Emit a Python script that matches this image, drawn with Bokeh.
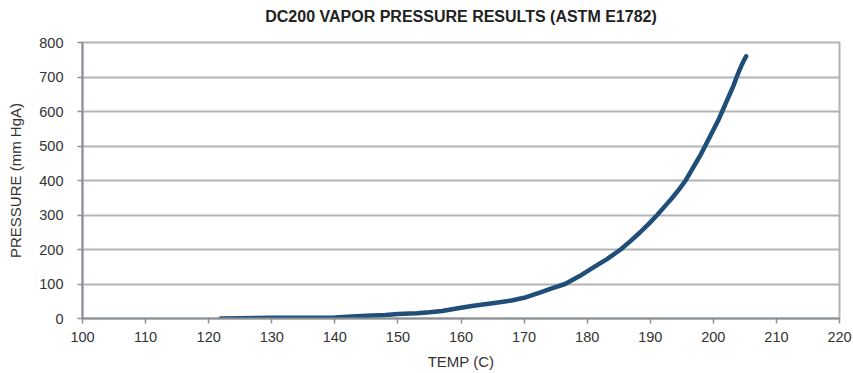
from bokeh.plotting import figure
from bokeh.models import Range1d, FixedTicker, Title
from bokeh.embed import file_html
from bokeh.resources import INLINE

# Data
temp_c = [121.9, 125, 130, 135, 140, 142, 145, 148, 150, 153, 155, 157, 160, 162, 165,
          168, 170, 172.6, 174.5, 176.5, 178.8, 181, 183.2, 185.3, 186.9, 188.4, 189.8,
          191.1, 192.3, 193.5, 194.6, 195.6, 196.4, 197.2, 198.0, 198.7, 199.4, 200.1,
          200.8, 201.4, 202.0, 202.6, 203.2, 203.7, 204.1, 204.5, 204.9, 205.2]
pressure_mmhg = [0, 1, 2, 2, 3, 5, 8, 10, 13, 15, 18, 22, 31, 37, 44,
                 52, 60, 76, 88, 100, 123, 148, 173, 200, 225, 250, 275,
                 300, 325, 350, 375, 400, 425, 450, 475, 500, 525, 550,
                 575, 600, 625, 650, 675, 700, 718, 735, 750, 760]
x_ticks = [100, 110, 120, 130, 140, 150, 160, 170, 180, 190, 200, 210, 220]
y_ticks = [0, 100, 200, 300, 400, 500, 600, 700, 800]

FONT = "Liberation Sans"
p = figure(width=853, height=373, output_backend="svg", toolbar_location=None,
           x_range=Range1d(100, 220), y_range=Range1d(0, 800),
           title="DC200 VAPOR PRESSURE RESULTS (ASTM E1782)",
           min_border_left=82, min_border_right=14, min_border_top=0, min_border_bottom=55)

p.title.align = "center"
p.title.text_font = FONT
p.title.text_font_size = "16px"
p.title.text_font_style = "bold"
p.title.text_color = "#222222"
p.title.offset = 0

# invisible spacer between title and plot frame
p.add_layout(Title(text=" ", text_font_size="10px", standoff=0), "above")

p.line(temp_c, pressure_mmhg, line_color="#1F4E79", line_width=4.5, line_join="round", line_cap="round")

p.xaxis.ticker = FixedTicker(ticks=x_ticks)
p.yaxis.ticker = FixedTicker(ticks=y_ticks)
p.xaxis.axis_label = "TEMP (C)"
p.yaxis.axis_label = "PRESSURE (mm HgA)"
for ax in (p.xaxis, p.yaxis):
    ax.axis_label_text_font = FONT
    ax.axis_label_text_font_size = "15px"
    ax.axis_label_text_font_style = "normal"
    ax.axis_label_text_color = "#333333"
    ax.major_label_text_font = FONT
    ax.major_label_text_font_size = "14.5px"
    ax.major_label_text_color = "#333333"
    ax.axis_line_color = "#8c9196"
    ax.axis_line_width = 2
    ax.major_tick_line_color = "#8c9196"
    ax.major_tick_line_width = 1.5
    ax.major_tick_in = 0
    ax.major_tick_out = 5
    ax.minor_tick_line_color = None
p.yaxis.major_label_standoff = 14
p.xaxis.major_label_standoff = 8
p.xaxis.axis_label_standoff = 8
p.yaxis.axis_label_standoff = 12

p.xgrid.grid_line_color = None
p.ygrid.grid_line_color = "#b0b4b8"
p.ygrid.grid_line_width = 2
p.outline_line_color = "#b0b4b8"
p.outline_line_width = 2

open("out.html", "w").write(file_html(p, INLINE))
